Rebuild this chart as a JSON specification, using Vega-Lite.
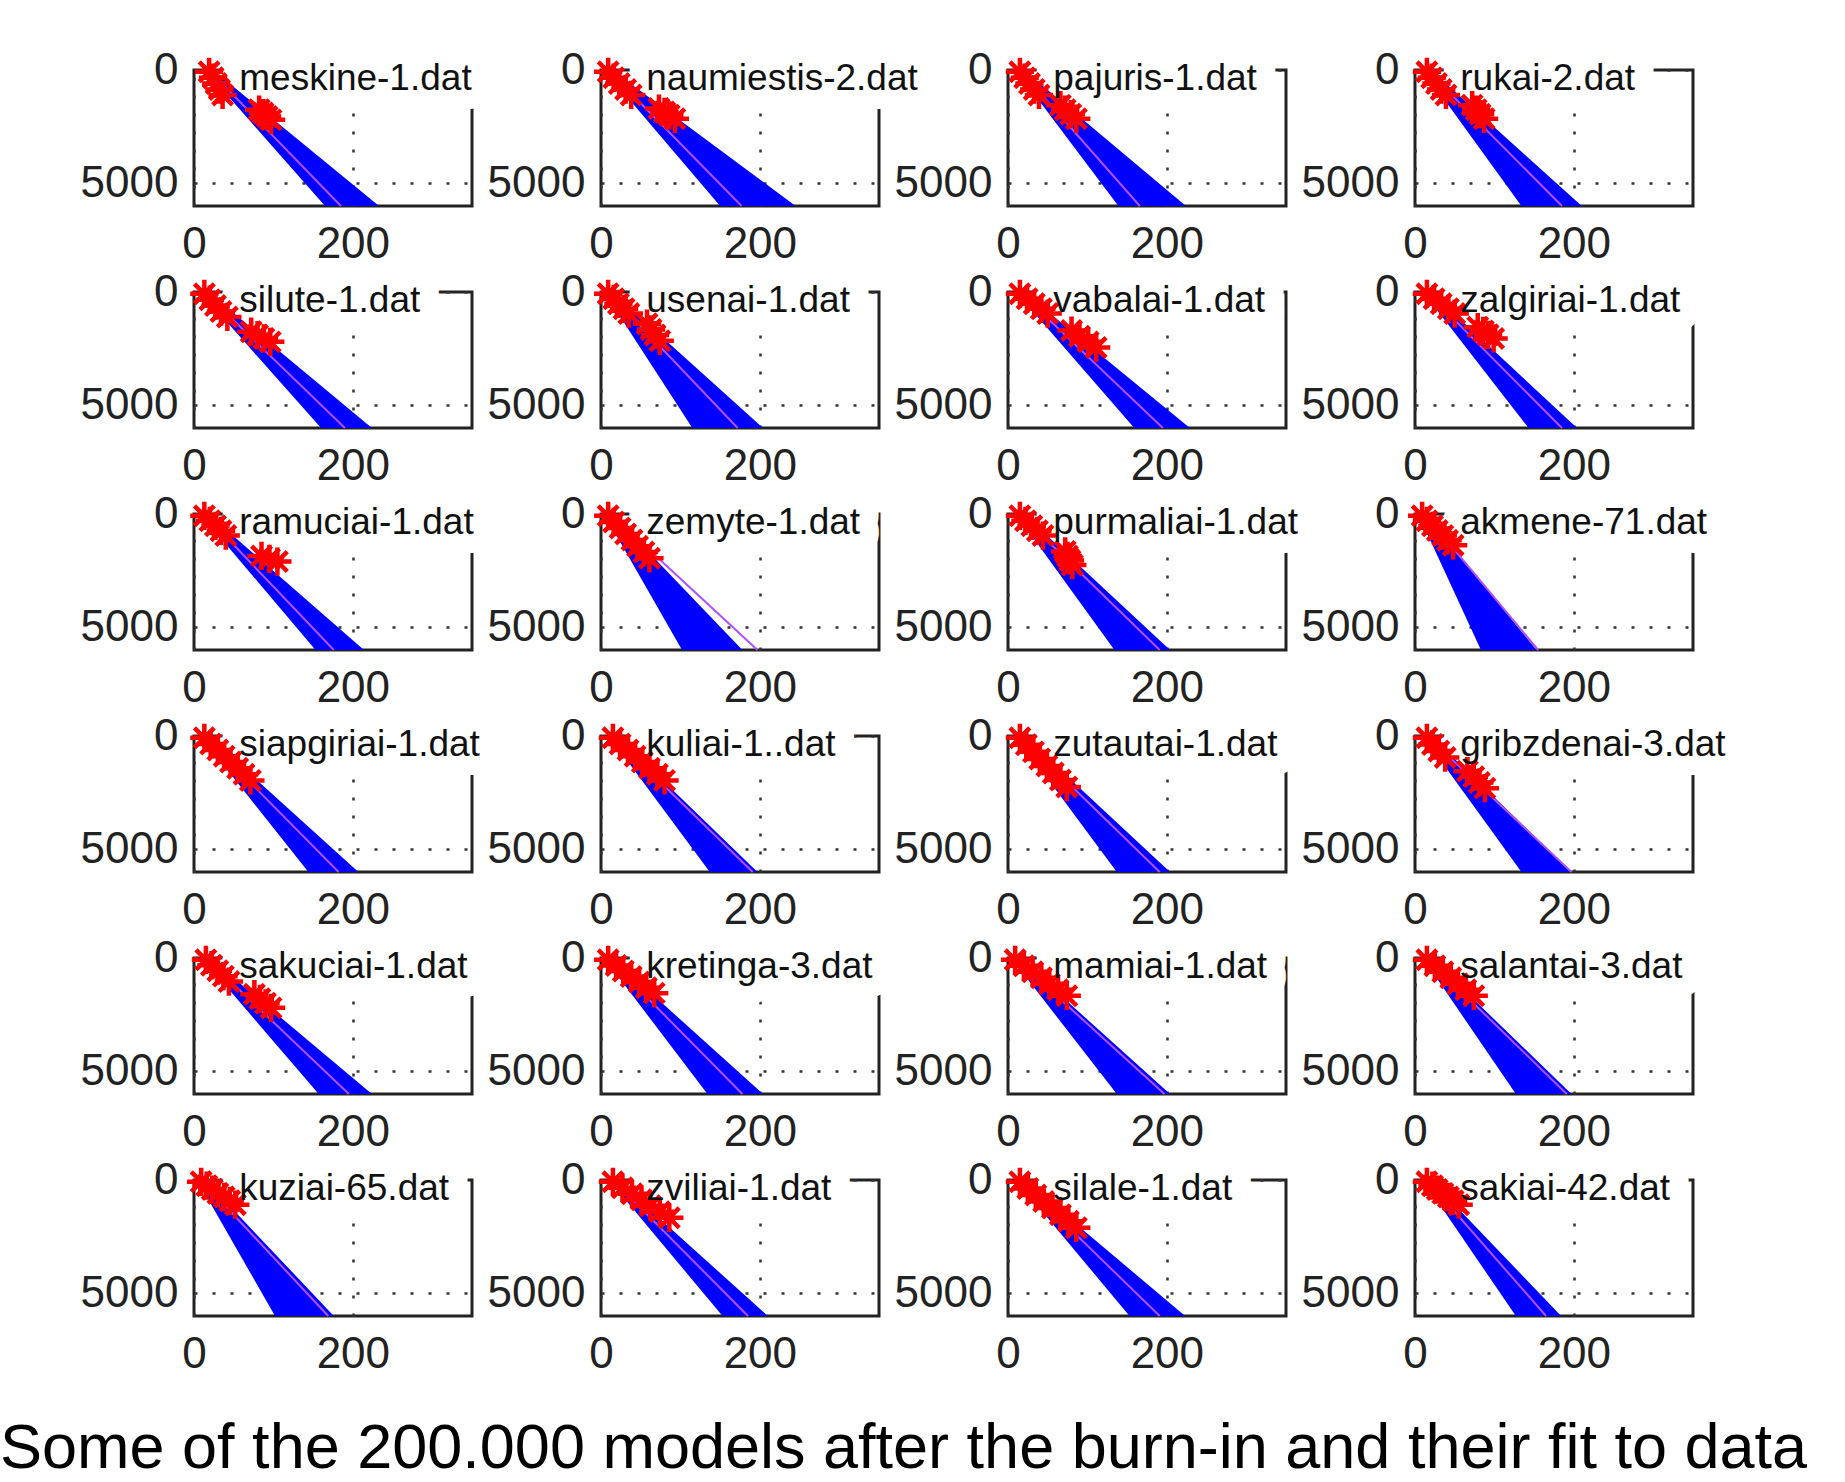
{
 "$schema": "https://vega.github.io/schema/vega-lite/v6.json",
 "background": "white",
 "padding": {"left": 0, "top": 46, "right": 5, "bottom": 5},
 "bounds": "flush",
 "spacing": {"row": 86, "column": 129},
 "columns": 4,
 "title": {"text": "Some of the 200.000 models after the burn-in and their fit to data", "orient": "bottom", "anchor": "start", "frame": "group", "dx": -194, "offset": 40, "font": "Liberation Sans", "fontSize": 63, "fontWeight": "normal", "color": "#000000"},
 "data": {"values": [
  {"site":"meskine-1.dat","kind":"band","depth":0,"lo":14,"hi":24,"fit":19},
  {"site":"meskine-1.dat","kind":"band","depth":6000,"lo":165,"hi":233,"fit":185},
  {"site":"meskine-1.dat","kind":"obs","depth":80,"v":19},
  {"site":"meskine-1.dat","kind":"obs","depth":340,"v":24},
  {"site":"meskine-1.dat","kind":"obs","depth":600,"v":28},
  {"site":"meskine-1.dat","kind":"obs","depth":860,"v":32},
  {"site":"meskine-1.dat","kind":"obs","depth":1100,"v":36},
  {"site":"meskine-1.dat","kind":"obs","depth":1750,"v":82},
  {"site":"meskine-1.dat","kind":"obs","depth":1900,"v":87},
  {"site":"meskine-1.dat","kind":"obs","depth":2050,"v":92},
  {"site":"meskine-1.dat","kind":"obs","depth":2200,"v":97},

  {"site":"naumiestis-2.dat","kind":"band","depth":0,"lo":4,"hi":14,"fit":9},
  {"site":"naumiestis-2.dat","kind":"band","depth":6000,"lo":150,"hi":245,"fit":177},
  {"site":"naumiestis-2.dat","kind":"obs","depth":80,"v":9},
  {"site":"naumiestis-2.dat","kind":"obs","depth":340,"v":16},
  {"site":"naumiestis-2.dat","kind":"obs","depth":600,"v":23},
  {"site":"naumiestis-2.dat","kind":"obs","depth":860,"v":31},
  {"site":"naumiestis-2.dat","kind":"obs","depth":1100,"v":38},
  {"site":"naumiestis-2.dat","kind":"obs","depth":1700,"v":73},
  {"site":"naumiestis-2.dat","kind":"obs","depth":1850,"v":80},
  {"site":"naumiestis-2.dat","kind":"obs","depth":2000,"v":86},
  {"site":"naumiestis-2.dat","kind":"obs","depth":2150,"v":93},

  {"site":"pajuris-1.dat","kind":"band","depth":0,"lo":10,"hi":20,"fit":15},
  {"site":"pajuris-1.dat","kind":"band","depth":6000,"lo":139,"hi":224,"fit":166},
  {"site":"pajuris-1.dat","kind":"obs","depth":80,"v":15},
  {"site":"pajuris-1.dat","kind":"obs","depth":340,"v":21},
  {"site":"pajuris-1.dat","kind":"obs","depth":600,"v":27},
  {"site":"pajuris-1.dat","kind":"obs","depth":860,"v":33},
  {"site":"pajuris-1.dat","kind":"obs","depth":1100,"v":39},
  {"site":"pajuris-1.dat","kind":"obs","depth":1550,"v":66},
  {"site":"pajuris-1.dat","kind":"obs","depth":1750,"v":72},
  {"site":"pajuris-1.dat","kind":"obs","depth":1950,"v":79},
  {"site":"pajuris-1.dat","kind":"obs","depth":2150,"v":86},

  {"site":"rukai-2.dat","kind":"band","depth":0,"lo":10,"hi":20,"fit":15},
  {"site":"rukai-2.dat","kind":"band","depth":6000,"lo":134,"hi":210,"fit":185},
  {"site":"rukai-2.dat","kind":"obs","depth":80,"v":15},
  {"site":"rukai-2.dat","kind":"obs","depth":340,"v":21},
  {"site":"rukai-2.dat","kind":"obs","depth":600,"v":27},
  {"site":"rukai-2.dat","kind":"obs","depth":860,"v":33},
  {"site":"rukai-2.dat","kind":"obs","depth":1100,"v":39},
  {"site":"rukai-2.dat","kind":"obs","depth":1550,"v":72},
  {"site":"rukai-2.dat","kind":"obs","depth":1750,"v":77},
  {"site":"rukai-2.dat","kind":"obs","depth":1950,"v":82},
  {"site":"rukai-2.dat","kind":"obs","depth":2150,"v":87},

  {"site":"silute-1.dat","kind":"band","depth":0,"lo":8,"hi":18,"fit":13},
  {"site":"silute-1.dat","kind":"band","depth":6000,"lo":160,"hi":224,"fit":190},
  {"site":"silute-1.dat","kind":"obs","depth":80,"v":13},
  {"site":"silute-1.dat","kind":"obs","depth":340,"v":20},
  {"site":"silute-1.dat","kind":"obs","depth":600,"v":27},
  {"site":"silute-1.dat","kind":"obs","depth":860,"v":34},
  {"site":"silute-1.dat","kind":"obs","depth":1100,"v":42},
  {"site":"silute-1.dat","kind":"obs","depth":1750,"v":72},
  {"site":"silute-1.dat","kind":"obs","depth":1900,"v":80},
  {"site":"silute-1.dat","kind":"obs","depth":2050,"v":88},
  {"site":"silute-1.dat","kind":"obs","depth":2200,"v":96},

  {"site":"usenai-1.dat","kind":"band","depth":0,"lo":4,"hi":14,"fit":9},
  {"site":"usenai-1.dat","kind":"band","depth":6000,"lo":115,"hi":204,"fit":172},
  {"site":"usenai-1.dat","kind":"obs","depth":80,"v":9},
  {"site":"usenai-1.dat","kind":"obs","depth":300,"v":16},
  {"site":"usenai-1.dat","kind":"obs","depth":520,"v":22},
  {"site":"usenai-1.dat","kind":"obs","depth":740,"v":29},
  {"site":"usenai-1.dat","kind":"obs","depth":950,"v":35},
  {"site":"usenai-1.dat","kind":"obs","depth":1400,"v":58},
  {"site":"usenai-1.dat","kind":"obs","depth":1650,"v":63},
  {"site":"usenai-1.dat","kind":"obs","depth":1900,"v":68},
  {"site":"usenai-1.dat","kind":"obs","depth":2150,"v":74},

  {"site":"vabalai-1.dat","kind":"band","depth":0,"lo":10,"hi":20,"fit":15},
  {"site":"vabalai-1.dat","kind":"band","depth":6000,"lo":159,"hi":229,"fit":195},
  {"site":"vabalai-1.dat","kind":"obs","depth":80,"v":15},
  {"site":"vabalai-1.dat","kind":"obs","depth":300,"v":24},
  {"site":"vabalai-1.dat","kind":"obs","depth":520,"v":33},
  {"site":"vabalai-1.dat","kind":"obs","depth":740,"v":42},
  {"site":"vabalai-1.dat","kind":"obs","depth":950,"v":50},
  {"site":"vabalai-1.dat","kind":"obs","depth":1700,"v":80},
  {"site":"vabalai-1.dat","kind":"obs","depth":1950,"v":90},
  {"site":"vabalai-1.dat","kind":"obs","depth":2200,"v":101},
  {"site":"vabalai-1.dat","kind":"obs","depth":2450,"v":111},

  {"site":"zalgiriai-1.dat","kind":"band","depth":0,"lo":10,"hi":20,"fit":15},
  {"site":"zalgiriai-1.dat","kind":"band","depth":6000,"lo":143,"hi":204,"fit":185},
  {"site":"zalgiriai-1.dat","kind":"obs","depth":80,"v":15},
  {"site":"zalgiriai-1.dat","kind":"obs","depth":300,"v":24},
  {"site":"zalgiriai-1.dat","kind":"obs","depth":520,"v":33},
  {"site":"zalgiriai-1.dat","kind":"obs","depth":740,"v":42},
  {"site":"zalgiriai-1.dat","kind":"obs","depth":950,"v":50},
  {"site":"zalgiriai-1.dat","kind":"obs","depth":1550,"v":79},
  {"site":"zalgiriai-1.dat","kind":"obs","depth":1720,"v":86},
  {"site":"zalgiriai-1.dat","kind":"obs","depth":1890,"v":92},
  {"site":"zalgiriai-1.dat","kind":"obs","depth":2050,"v":99},

  {"site":"ramuciai-1.dat","kind":"band","depth":0,"lo":8,"hi":18,"fit":13},
  {"site":"ramuciai-1.dat","kind":"band","depth":6000,"lo":153,"hi":214,"fit":176},
  {"site":"ramuciai-1.dat","kind":"obs","depth":80,"v":13},
  {"site":"ramuciai-1.dat","kind":"obs","depth":300,"v":20},
  {"site":"ramuciai-1.dat","kind":"obs","depth":520,"v":27},
  {"site":"ramuciai-1.dat","kind":"obs","depth":740,"v":34},
  {"site":"ramuciai-1.dat","kind":"obs","depth":950,"v":40},
  {"site":"ramuciai-1.dat","kind":"obs","depth":1850,"v":85},
  {"site":"ramuciai-1.dat","kind":"obs","depth":1980,"v":95},
  {"site":"ramuciai-1.dat","kind":"obs","depth":2100,"v":105},

  {"site":"zemyte-1.dat","kind":"band","depth":0,"lo":4,"hi":14,"fit":12},
  {"site":"zemyte-1.dat","kind":"band","depth":6000,"lo":102,"hi":178,"fit":197},
  {"site":"zemyte-1.dat","kind":"obs","depth":80,"v":9},
  {"site":"zemyte-1.dat","kind":"obs","depth":350,"v":16},
  {"site":"zemyte-1.dat","kind":"obs","depth":620,"v":24},
  {"site":"zemyte-1.dat","kind":"obs","depth":880,"v":31},
  {"site":"zemyte-1.dat","kind":"obs","depth":1150,"v":39},
  {"site":"zemyte-1.dat","kind":"obs","depth":1420,"v":46},
  {"site":"zemyte-1.dat","kind":"obs","depth":1680,"v":54},
  {"site":"zemyte-1.dat","kind":"obs","depth":1950,"v":61},

  {"site":"purmaliai-1.dat","kind":"band","depth":0,"lo":10,"hi":20,"fit":15},
  {"site":"purmaliai-1.dat","kind":"band","depth":6000,"lo":134,"hi":204,"fit":191},
  {"site":"purmaliai-1.dat","kind":"obs","depth":80,"v":15},
  {"site":"purmaliai-1.dat","kind":"obs","depth":300,"v":22},
  {"site":"purmaliai-1.dat","kind":"obs","depth":520,"v":30},
  {"site":"purmaliai-1.dat","kind":"obs","depth":740,"v":37},
  {"site":"purmaliai-1.dat","kind":"obs","depth":950,"v":44},
  {"site":"purmaliai-1.dat","kind":"obs","depth":1650,"v":72},
  {"site":"purmaliai-1.dat","kind":"obs","depth":1850,"v":75},
  {"site":"purmaliai-1.dat","kind":"obs","depth":2050,"v":78},
  {"site":"purmaliai-1.dat","kind":"obs","depth":2250,"v":81},

  {"site":"akmene-71.dat","kind":"band","depth":0,"lo":4,"hi":14,"fit":12},
  {"site":"akmene-71.dat","kind":"band","depth":6000,"lo":83,"hi":153,"fit":155},
  {"site":"akmene-71.dat","kind":"obs","depth":80,"v":9},
  {"site":"akmene-71.dat","kind":"obs","depth":300,"v":15},
  {"site":"akmene-71.dat","kind":"obs","depth":520,"v":22},
  {"site":"akmene-71.dat","kind":"obs","depth":730,"v":28},
  {"site":"akmene-71.dat","kind":"obs","depth":950,"v":35},
  {"site":"akmene-71.dat","kind":"obs","depth":1160,"v":41},
  {"site":"akmene-71.dat","kind":"obs","depth":1380,"v":48},

  {"site":"siapgiriai-1.dat","kind":"band","depth":0,"lo":8,"hi":18,"fit":13},
  {"site":"siapgiriai-1.dat","kind":"band","depth":6000,"lo":144,"hi":207,"fit":182},
  {"site":"siapgiriai-1.dat","kind":"obs","depth":80,"v":13},
  {"site":"siapgiriai-1.dat","kind":"obs","depth":350,"v":21},
  {"site":"siapgiriai-1.dat","kind":"obs","depth":620,"v":30},
  {"site":"siapgiriai-1.dat","kind":"obs","depth":890,"v":38},
  {"site":"siapgiriai-1.dat","kind":"obs","depth":1150,"v":46},
  {"site":"siapgiriai-1.dat","kind":"obs","depth":1420,"v":55},
  {"site":"siapgiriai-1.dat","kind":"obs","depth":1690,"v":63},
  {"site":"siapgiriai-1.dat","kind":"obs","depth":1960,"v":71},

  {"site":"kuliai-1..dat","kind":"band","depth":0,"lo":10,"hi":20,"fit":15},
  {"site":"kuliai-1..dat","kind":"band","depth":6000,"lo":137,"hi":197,"fit":191},
  {"site":"kuliai-1..dat","kind":"obs","depth":80,"v":15},
  {"site":"kuliai-1..dat","kind":"obs","depth":350,"v":24},
  {"site":"kuliai-1..dat","kind":"obs","depth":620,"v":34},
  {"site":"kuliai-1..dat","kind":"obs","depth":890,"v":43},
  {"site":"kuliai-1..dat","kind":"obs","depth":1150,"v":52},
  {"site":"kuliai-1..dat","kind":"obs","depth":1420,"v":61},
  {"site":"kuliai-1..dat","kind":"obs","depth":1690,"v":71},
  {"site":"kuliai-1..dat","kind":"obs","depth":1960,"v":80},

  {"site":"zutautai-1.dat","kind":"band","depth":0,"lo":10,"hi":20,"fit":15},
  {"site":"zutautai-1.dat","kind":"band","depth":6000,"lo":137,"hi":204,"fit":191},
  {"site":"zutautai-1.dat","kind":"obs","depth":80,"v":15},
  {"site":"zutautai-1.dat","kind":"obs","depth":390,"v":23},
  {"site":"zutautai-1.dat","kind":"obs","depth":700,"v":32},
  {"site":"zutautai-1.dat","kind":"obs","depth":1010,"v":40},
  {"site":"zutautai-1.dat","kind":"obs","depth":1320,"v":49},
  {"site":"zutautai-1.dat","kind":"obs","depth":1630,"v":57},
  {"site":"zutautai-1.dat","kind":"obs","depth":1940,"v":66},
  {"site":"zutautai-1.dat","kind":"obs","depth":2250,"v":74},

  {"site":"gribzdenai-3.dat","kind":"band","depth":0,"lo":10,"hi":20,"fit":15},
  {"site":"gribzdenai-3.dat","kind":"band","depth":6000,"lo":134,"hi":197,"fit":197},
  {"site":"gribzdenai-3.dat","kind":"obs","depth":80,"v":15},
  {"site":"gribzdenai-3.dat","kind":"obs","depth":370,"v":22},
  {"site":"gribzdenai-3.dat","kind":"obs","depth":660,"v":30},
  {"site":"gribzdenai-3.dat","kind":"obs","depth":950,"v":38},
  {"site":"gribzdenai-3.dat","kind":"obs","depth":1550,"v":66},
  {"site":"gribzdenai-3.dat","kind":"obs","depth":1800,"v":74},
  {"site":"gribzdenai-3.dat","kind":"obs","depth":2050,"v":81},
  {"site":"gribzdenai-3.dat","kind":"obs","depth":2300,"v":88},

  {"site":"sakuciai-1.dat","kind":"band","depth":0,"lo":10,"hi":20,"fit":15},
  {"site":"sakuciai-1.dat","kind":"band","depth":6000,"lo":157,"hi":224,"fit":195},
  {"site":"sakuciai-1.dat","kind":"obs","depth":80,"v":15},
  {"site":"sakuciai-1.dat","kind":"obs","depth":320,"v":22},
  {"site":"sakuciai-1.dat","kind":"obs","depth":560,"v":30},
  {"site":"sakuciai-1.dat","kind":"obs","depth":800,"v":37},
  {"site":"sakuciai-1.dat","kind":"obs","depth":1040,"v":44},
  {"site":"sakuciai-1.dat","kind":"obs","depth":1600,"v":76},
  {"site":"sakuciai-1.dat","kind":"obs","depth":1800,"v":83},
  {"site":"sakuciai-1.dat","kind":"obs","depth":2000,"v":90},
  {"site":"sakuciai-1.dat","kind":"obs","depth":2200,"v":97},

  {"site":"kretinga-3.dat","kind":"band","depth":0,"lo":4,"hi":14,"fit":9},
  {"site":"kretinga-3.dat","kind":"band","depth":6000,"lo":134,"hi":204,"fit":178},
  {"site":"kretinga-3.dat","kind":"obs","depth":80,"v":9},
  {"site":"kretinga-3.dat","kind":"obs","depth":330,"v":19},
  {"site":"kretinga-3.dat","kind":"obs","depth":570,"v":28},
  {"site":"kretinga-3.dat","kind":"obs","depth":820,"v":38},
  {"site":"kretinga-3.dat","kind":"obs","depth":1060,"v":48},
  {"site":"kretinga-3.dat","kind":"obs","depth":1310,"v":57},
  {"site":"kretinga-3.dat","kind":"obs","depth":1550,"v":67},

  {"site":"mamiai-1.dat","kind":"band","depth":0,"lo":4,"hi":14,"fit":9},
  {"site":"mamiai-1.dat","kind":"band","depth":6000,"lo":137,"hi":204,"fit":197},
  {"site":"mamiai-1.dat","kind":"obs","depth":80,"v":9},
  {"site":"mamiai-1.dat","kind":"obs","depth":345,"v":20},
  {"site":"mamiai-1.dat","kind":"obs","depth":610,"v":31},
  {"site":"mamiai-1.dat","kind":"obs","depth":875,"v":42},
  {"site":"mamiai-1.dat","kind":"obs","depth":1140,"v":52},
  {"site":"mamiai-1.dat","kind":"obs","depth":1405,"v":63},
  {"site":"mamiai-1.dat","kind":"obs","depth":1670,"v":74},

  {"site":"salantai-3.dat","kind":"band","depth":0,"lo":10,"hi":20,"fit":15},
  {"site":"salantai-3.dat","kind":"band","depth":6000,"lo":127,"hi":197,"fit":191},
  {"site":"salantai-3.dat","kind":"obs","depth":80,"v":15},
  {"site":"salantai-3.dat","kind":"obs","depth":345,"v":25},
  {"site":"salantai-3.dat","kind":"obs","depth":610,"v":35},
  {"site":"salantai-3.dat","kind":"obs","depth":875,"v":45},
  {"site":"salantai-3.dat","kind":"obs","depth":1140,"v":54},
  {"site":"salantai-3.dat","kind":"obs","depth":1405,"v":64},
  {"site":"salantai-3.dat","kind":"obs","depth":1670,"v":74},

  {"site":"kuziai-65.dat","kind":"band","depth":0,"lo":4,"hi":14,"fit":9},
  {"site":"kuziai-65.dat","kind":"band","depth":6000,"lo":102,"hi":176,"fit":169},
  {"site":"kuziai-65.dat","kind":"obs","depth":80,"v":9},
  {"site":"kuziai-65.dat","kind":"obs","depth":250,"v":16},
  {"site":"kuziai-65.dat","kind":"obs","depth":420,"v":23},
  {"site":"kuziai-65.dat","kind":"obs","depth":590,"v":30},
  {"site":"kuziai-65.dat","kind":"obs","depth":750,"v":38},
  {"site":"kuziai-65.dat","kind":"obs","depth":920,"v":45},
  {"site":"kuziai-65.dat","kind":"obs","depth":1090,"v":52},

  {"site":"zviliai-1.dat","kind":"band","depth":0,"lo":10,"hi":20,"fit":15},
  {"site":"zviliai-1.dat","kind":"band","depth":6000,"lo":153,"hi":210,"fit":185},
  {"site":"zviliai-1.dat","kind":"obs","depth":80,"v":15},
  {"site":"zviliai-1.dat","kind":"obs","depth":345,"v":27},
  {"site":"zviliai-1.dat","kind":"obs","depth":610,"v":39},
  {"site":"zviliai-1.dat","kind":"obs","depth":875,"v":51},
  {"site":"zviliai-1.dat","kind":"obs","depth":1140,"v":62},
  {"site":"zviliai-1.dat","kind":"obs","depth":1405,"v":74},
  {"site":"zviliai-1.dat","kind":"obs","depth":1670,"v":86},

  {"site":"silale-1.dat","kind":"band","depth":0,"lo":10,"hi":20,"fit":15},
  {"site":"silale-1.dat","kind":"band","depth":6000,"lo":153,"hi":223,"fit":191},
  {"site":"silale-1.dat","kind":"obs","depth":80,"v":15},
  {"site":"silale-1.dat","kind":"obs","depth":370,"v":25},
  {"site":"silale-1.dat","kind":"obs","depth":660,"v":35},
  {"site":"silale-1.dat","kind":"obs","depth":950,"v":45},
  {"site":"silale-1.dat","kind":"obs","depth":1240,"v":56},
  {"site":"silale-1.dat","kind":"obs","depth":1530,"v":66},
  {"site":"silale-1.dat","kind":"obs","depth":1820,"v":76},
  {"site":"silale-1.dat","kind":"obs","depth":2110,"v":86},

  {"site":"sakiai-42.dat","kind":"band","depth":0,"lo":10,"hi":20,"fit":15},
  {"site":"sakiai-42.dat","kind":"band","depth":6000,"lo":127,"hi":184,"fit":165},
  {"site":"sakiai-42.dat","kind":"obs","depth":80,"v":15},
  {"site":"sakiai-42.dat","kind":"obs","depth":250,"v":22},
  {"site":"sakiai-42.dat","kind":"obs","depth":420,"v":28},
  {"site":"sakiai-42.dat","kind":"obs","depth":590,"v":35},
  {"site":"sakiai-42.dat","kind":"obs","depth":750,"v":42},
  {"site":"sakiai-42.dat","kind":"obs","depth":920,"v":48},
  {"site":"sakiai-42.dat","kind":"obs","depth":1090,"v":55}
 ]},
 "facet": {"field": "site", "type": "nominal", "header": {"labels": false, "title": null, "labelFontSize": 0, "labelPadding": 0, "labelExpr": "''"}, "sort": ["meskine-1.dat","naumiestis-2.dat","pajuris-1.dat","rukai-2.dat","silute-1.dat","usenai-1.dat","vabalai-1.dat","zalgiriai-1.dat","ramuciai-1.dat","zemyte-1.dat","purmaliai-1.dat","akmene-71.dat","siapgiriai-1.dat","kuliai-1..dat","zutautai-1.dat","gribzdenai-3.dat","sakuciai-1.dat","kretinga-3.dat","mamiai-1.dat","salantai-3.dat","kuziai-65.dat","zviliai-1.dat","silale-1.dat","sakiai-42.dat"]},
 "spec": {
  "width": 278,
  "height": 136,
  "layer": [
   {
    "transform": [{"filter": "datum.kind === 'band' && datum.depth === 0"}],
    "mark": {"type": "text", "align": "left", "baseline": "alphabetic", "font": "Liberation Sans", "fontSize": 37, "fill": "white", "stroke": "white", "strokeWidth": 38, "strokeJoin": "round"},
    "encoding": {
     "x": {"datum": 57, "type": "quantitative", "scale": {"domain": [0, 350], "nice": false}, "axis": {"values": [0, 200], "format": "d"}, "title": null},
     "y": {"datum": 880, "type": "quantitative", "scale": {"domain": [0, 6000], "reverse": true, "nice": false, "zero": false}, "axis": {"values": [0, 5000], "format": "d"}, "title": null},
     "text": {"field": "site"}
    }
   },
   {
    "transform": [{"filter": "datum.kind === 'band'"}],
    "mark": {"type": "area", "orient": "horizontal", "color": "#0000ff", "opacity": 1},
    "encoding": {
     "y": {"field": "depth", "type": "quantitative", "title": null},
     "x": {"field": "lo", "type": "quantitative", "title": null},
     "x2": {"field": "hi"}
    }
   },
   {
    "transform": [{"filter": "datum.kind === 'band'"}],
    "mark": {"type": "line", "color": "#b050ff", "strokeWidth": 2},
    "encoding": {
     "y": {"field": "depth", "type": "quantitative", "title": null},
     "x": {"field": "fit", "type": "quantitative", "title": null}
    }
   },
   {
    "transform": [{"filter": "datum.kind === 'obs'"}],
    "mark": {"type": "point", "shape": "M0,-1L0,1M-1,0L1,0M-0.7,-0.7L0.7,0.7M-0.7,0.7L0.7,-0.7", "filled": false, "stroke": "#ff0000", "strokeWidth": 4.5, "size": 800, "opacity": 1},
    "encoding": {
     "y": {"field": "depth", "type": "quantitative", "title": null},
     "x": {"field": "v", "type": "quantitative", "title": null}
    }
   },
   {
    "transform": [{"filter": "datum.kind === 'band' && datum.depth === 0"}],
    "mark": {"type": "text", "align": "left", "baseline": "alphabetic", "font": "Liberation Sans", "fontSize": 37, "fill": "#111111"},
    "encoding": {
     "x": {"datum": 57, "type": "quantitative"},
     "y": {"datum": 880, "type": "quantitative"},
     "text": {"field": "site"}
    }
   }
  ]
 },
 "resolve": {"axis": {"x": "independent", "y": "independent"}},
 "config": {
  "view": {"stroke": "#222222", "strokeWidth": 3},
  "header": {"labels": false, "title": null, "labelFontSize": 0, "labelPadding": 0},
  "axis": {"labelFont": "Liberation Sans", "labelFontSize": 44, "labelColor": "#222222", "ticks": false, "domain": false, "grid": true, "gridColor": "#333333", "gridDash": [3, 15], "gridWidth": 2.5, "labelPadding": 16, "labelFlush": false, "labelOverlap": false, "labelBound": false}
 }
}
